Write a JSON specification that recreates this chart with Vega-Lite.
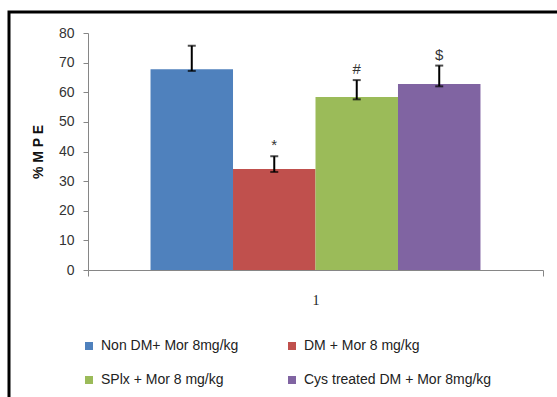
{
  "$schema": "https://vega.github.io/schema/vega-lite/v6.json",
  "autosize": "none",
  "padding": {"left": 9, "top": 12, "right": -3, "bottom": -3},
  "width": 551,
  "height": 388,
  "background": "white",
  "config": {
    "view": {"stroke": "black", "strokeWidth": 3},
    "font": "Liberation Sans"
  },
  "data": {
    "values": [
      {"cat": "1", "series": "Non DM+ Mor 8mg/kg", "value": 67.8, "lo": 67.2, "hi": 75.7, "sig": ""},
      {"cat": "1", "series": "DM + Mor 8 mg/kg", "value": 34.1, "lo": 33.1, "hi": 38.4, "sig": "*"},
      {"cat": "1", "series": "SPlx + Mor 8 mg/kg", "value": 58.4, "lo": 57.6, "hi": 64.1, "sig": "#"},
      {"cat": "1", "series": "Cys treated DM + Mor 8mg/kg", "value": 62.8, "lo": 62.0, "hi": 69.0, "sig": "$"}
    ]
  },
  "encoding": {
    "x": {
      "field": "cat", "type": "nominal",
      "scale": {"range": [79, 534], "paddingInner": 0, "paddingOuter": 0},
      "axis": {
        "title": null, "offset": -130, "tickBand": "extent", "labelAngle": 0,
        "domainColor": "#868686", "tickColor": "#868686", "tickSize": 6,
        "labelPadding": 17, "labelFontSize": 14, "labelColor": "#222", "labelFont": "Liberation Serif"
      }
    },
    "xOffset": {
      "field": "series", "type": "nominal", "sort": null,
      "scale": {"paddingOuter": 0.758, "paddingInner": 0}
    }
  },
  "layer": [
    {
      "mark": {"type": "bar"},
      "encoding": {
        "y": {
          "field": "value", "type": "quantitative",
          "scale": {"domain": [0, 80], "range": [258, 21], "nice": false},
          "axis": {
            "title": "% M P E", "offset": -79, "values": [0, 10, 20, 30, 40, 50, 60, 70, 80],
            "grid": false, "domainColor": "#868686", "tickColor": "#868686", "tickSize": 5,
            "labelPadding": 9, "labelFontSize": 14, "labelColor": "#333",
            "titleFontSize": 14, "titleFontWeight": "bold", "titleColor": "#111", "titlePadding": 13
          }
        },
        "color": {
          "field": "series", "type": "nominal", "sort": null,
          "scale": {
            "domain": ["Non DM+ Mor 8mg/kg", "DM + Mor 8 mg/kg", "SPlx + Mor 8 mg/kg", "Cys treated DM + Mor 8mg/kg"],
            "range": ["#4F81BD", "#C0504D", "#9BBB59", "#8064A2"]
          },
          "legend": {
            "title": null, "orient": "none", "legendX": 73, "legendY": 327, "columns": 2,
            "direction": "horizontal", "symbolType": "square", "symbolSize": 64,
            "symbolStrokeWidth": 0, "labelFontSize": 14, "labelColor": "#222",
            "labelOffset": 5, "columnPadding": 46, "rowPadding": 20, "padding": 0, "labelLimit": 300
          }
        }
      }
    },
    {
      "mark": {"type": "rule", "color": "black", "strokeWidth": 2},
      "encoding": {
        "y": {"field": "lo", "type": "quantitative"},
        "y2": {"field": "hi"}
      }
    },
    {
      "mark": {"type": "tick", "color": "black", "thickness": 2, "size": 8},
      "encoding": {"y": {"field": "hi", "type": "quantitative"}}
    },
    {
      "mark": {"type": "tick", "color": "black", "thickness": 2, "size": 8},
      "encoding": {"y": {"field": "lo", "type": "quantitative"}}
    },
    {
      "mark": {"type": "text", "fontSize": 15, "color": "#333", "baseline": "alphabetic", "dy": -6},
      "encoding": {
        "y": {"field": "hi", "type": "quantitative"},
        "text": {"field": "sig"}
      }
    }
  ]
}
